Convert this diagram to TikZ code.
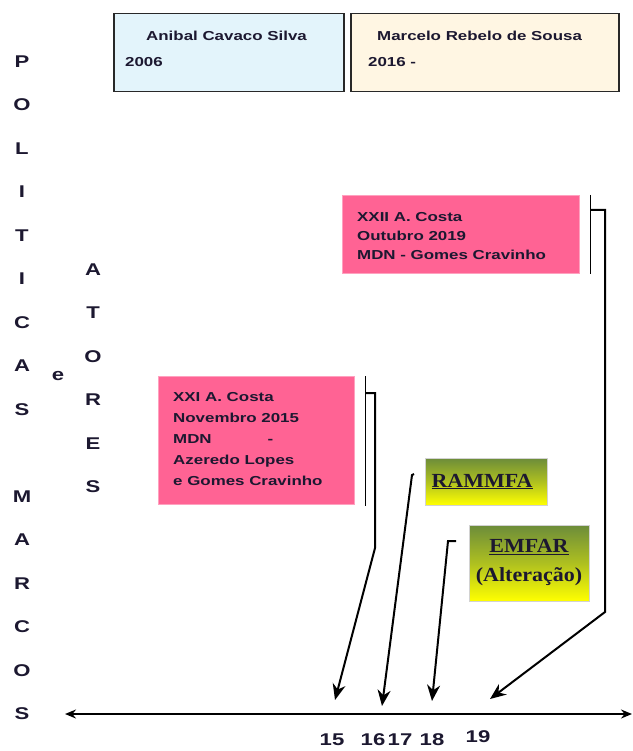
\documentclass[tikz,border=0pt]{standalone}
\usepackage{fontspec}
\setmainfont{Liberation Sans}[FakeStretch=1.3]
\newfontfamily\serifb{Liberation Serif}[FakeStretch=1.1]
\usetikzlibrary{arrows.meta,calc}
\definecolor{txt}{RGB}{28,24,48}
\definecolor{bluefill}{RGB}{227,244,251}
\definecolor{creamfill}{RGB}{255,246,227}
\definecolor{pinkfill}{RGB}{255,99,148}
\definecolor{olivec}{RGB}{108,140,58}
\definecolor{yelc}{RGB}{255,255,0}
\definecolor{framec}{RGB}{40,40,40}
\begin{document}
\begin{tikzpicture}[x=1pt,y=-1pt,
  headbox/.style={draw=framec,line width=1.5pt,minimum width=230pt,minimum height=78pt,anchor=north west,inner sep=0pt},
  pinkbox/.style={draw=pinkfill!60!white,line width=0.6pt,fill=pinkfill,anchor=north west,inner sep=0pt},
  gradbox/.style={draw=gray!35,line width=0.5pt,top color=olivec,bottom color=yelc,middle color=olivec!55!yelc,inner sep=0pt,text=txt,font=\serifb\bfseries\fontsize{20}{29}\selectfont,align=center},
  boxtext/.style={anchor=north west,inner sep=0pt,align=left,text=txt,font=\bfseries\fontsize{13}{19}\selectfont},
  vword/.style={anchor=north,inner sep=0pt,align=center,text=txt,font=\bfseries\fontsize{17}{43.5}\selectfont},
  yearlbl/.style={inner sep=0pt,text=txt,font=\bfseries\fontsize{17}{20}\selectfont},
  bracketline/.style={line width=1.7pt,black},
  pointer/.style={line width=2pt,black,-{Stealth[length=16pt,width=13pt]}},
  axisline/.style={line width=1.7pt,black,{Stealth[length=11pt,width=9pt]}-{Stealth[length=11pt,width=9pt]}}
]
\useasboundingbox (0,0) rectangle (632,751);

% header boxes
\node[headbox,fill=bluefill] (pres1) at (113,13) {};
\node[headbox,fill=creamfill,minimum width=268pt] (pres2) at (350,13) {};
\node[boxtext,font=\bfseries\fontsize{13}{26}\selectfont] (pres1t) at (125,30.5) {\hspace{21pt}Anibal Cavaco Silva\\2006};
\node[boxtext,font=\bfseries\fontsize{13}{26}\selectfont] (pres2t) at (368,30.5) {\hspace{9pt}Marcelo Rebelo de Sousa\\2016 -};

% vertical words
\node[vword] (politicas) at (22,55.5) {P\\O\\L\\I\\T\\I\\C\\A\\S};
\node[vword] (marcos) at (22,490.5) {M\\A\\R\\C\\O\\S};
\node[vword] (atores) at (93,263.5) {A\\T\\O\\R\\E\\S};
\node[inner sep=0pt,text=txt,font=\bfseries\fontsize{17}{18}\selectfont] (e) at (58,376) {e};

% pink boxes
\node[pinkbox,minimum width=237pt,minimum height=78pt] (gov22) at (342,195) {};
\node[boxtext] (gov22t) at (357,212.5) {XXII A. Costa\\Outubro 2019\\MDN - Gomes Cravinho};
\node[pinkbox,minimum width=196pt,minimum height=128pt] (gov21) at (158,376) {};
\node[boxtext,font=\bfseries\fontsize{13}{21}\selectfont] (gov21t) at (173,392.5) {XXI A. Costa\\Novembro 2015\\MDN\hspace{56pt}-\\Azeredo Lopes\\e Gomes Cravinho};

% gradient boxes
\node[gradbox,minimum width=122pt,minimum height=47pt] (rammfa) at (486,481.5) {\underline{RAMMFA}\hspace{8pt}};
\node[gradbox,minimum width=120pt,minimum height=76pt] (emfar) at (529,563) {\underline{EMFAR}\\(Alteração)};

% timeline
\coordinate (axl) at (65,714);
\coordinate (axr) at (632,714);
\draw[axisline] (axl) -- (axr);
\node[yearlbl] (y15) at (332,740) {15};
\node[yearlbl] (y16) at (373,740) {16};
\node[yearlbl] (y17) at (400,740) {17};
\node[yearlbl] (y18) at (432,740) {18};
\node[yearlbl] (y19) at (478,737) {19};

% target points above the axis
\coordinate (p15) at (335,700);
\coordinate (p16) at (382,706);
\coordinate (p18) at (432,701);
\coordinate (p19) at (490,699);

% bracket and pointer from XXII
\coordinate (b22top) at ($(gov22.north east)+(11,0)$);
\coordinate (b22bot) at ($(gov22.south east)+(11,0)$);
\coordinate (b22h) at (590,210);
\coordinate (b22k) at (605,210);
\coordinate (b22d) at (605,612);
\draw[bracketline] (b22top) -- (b22bot);
\draw[pointer,line join=miter] (b22h) -- (b22k) -- (b22d) -- (p19);

% bracket and pointer from XXI
\coordinate (b21top) at ($(gov21.north east)+(11,0)$);
\coordinate (b21bot) at ($(gov21.south east)+(11,1)$);
\coordinate (b21h) at (365,393);
\coordinate (b21k) at (375,393);
\coordinate (b21d) at (375,548);
\draw[bracketline] (b21top) -- (b21bot);
\draw[pointer,line join=miter] (b21h) -- (b21k) -- (b21d) -- (p15);

% RAMMFA pointer
\coordinate (rmh) at (414,474);
\coordinate (rmk) at (412,475);
\draw[pointer] (rmh) -- (rmk) -- (p16);

% EMFAR pointer
\coordinate (emh) at (456,541);
\coordinate (emk) at (448,541);
\draw[pointer,line join=miter] (emh) -- (emk) -- (p18);
\end{tikzpicture}
\end{document}
